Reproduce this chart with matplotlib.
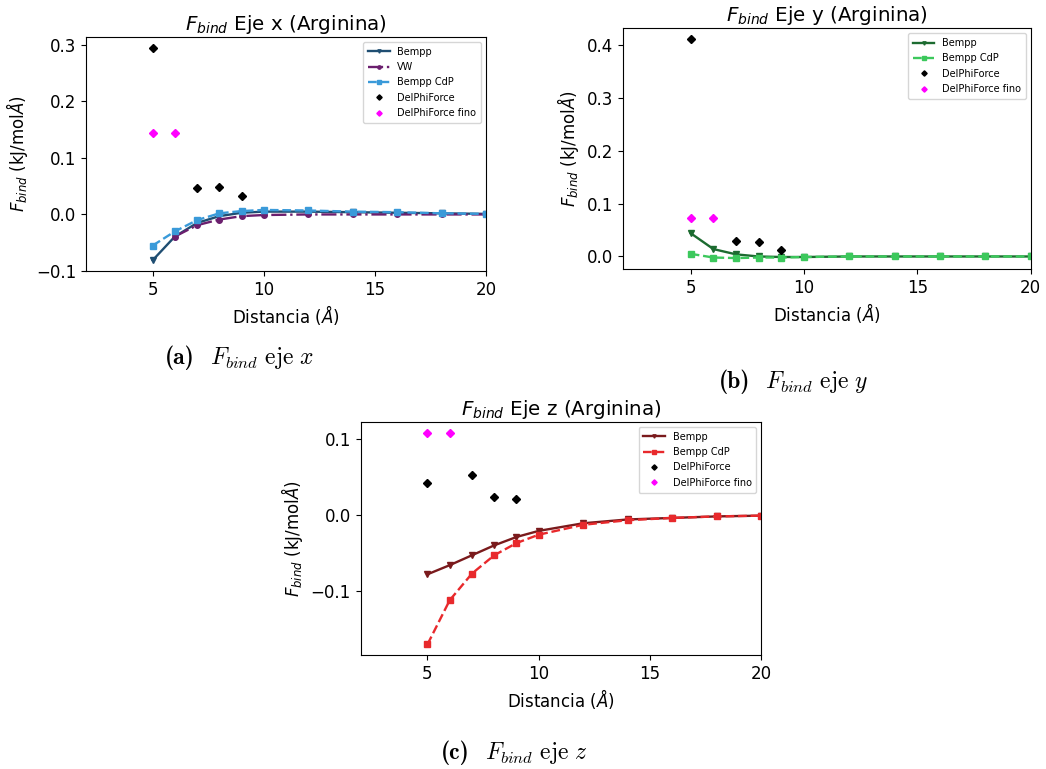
import matplotlib
matplotlib.use("Agg")
import matplotlib.pyplot as plt

# Distances (Å)
dist = [5, 6, 7, 8, 9, 10, 12, 14, 16, 18, 20]
dist_vw = [6, 7, 8, 9, 10, 12, 14, 16, 18, 20]
dist_delphi = [5, 7, 8, 9]
dist_fino = [5, 6]

# Eje x
x_bempp = [-0.081, -0.039, -0.015, -0.003, 0.003, 0.005, 0.005, 0.004, 0.003, 0.002, 0.001]
x_vw = [-0.039, -0.019, -0.009, -0.003, -0.001, 0.0, 0.0, 0.0, 0.0, 0.0]
x_cdp = [-0.055, -0.030, -0.010, 0.002, 0.006, 0.008, 0.007, 0.005, 0.004, 0.002, 0.001]
x_delphi = [0.295, 0.046, 0.048, 0.033]
x_fino = [0.144, 0.144]

# Eje y
y_bempp = [0.044, 0.014, 0.004, 0.000, -0.001, -0.001, 0.0, 0.0, 0.0, 0.0, 0.0]
y_cdp = [0.005, -0.002, -0.003, -0.002, -0.002, -0.001, 0.0, 0.0, 0.0, 0.0, 0.0]
y_delphi = [0.411, 0.030, 0.027, 0.013]
y_fino = [0.072, 0.072]

# Eje z
z_bempp = [-0.078, -0.066, -0.053, -0.040, -0.029, -0.021, -0.011, -0.006, -0.004, -0.002, -0.001]
z_cdp = [-0.170, -0.112, -0.077, -0.053, -0.037, -0.026, -0.013, -0.007, -0.004, -0.002, -0.001]
z_delphi = [0.042, 0.052, 0.023, 0.021]
z_fino = [0.108, 0.108]

W, H = 1046, 769
fig = plt.figure(figsize=(W / 100, H / 100), dpi=100)


def px_axes(left, top, right, bottom):
    return fig.add_axes([left / W, 1 - bottom / H, (right - left) / W, (bottom - top) / H])


def style(ax, title):
    ax.set_xlim(2, 20)
    ax.set_xticks([5, 10, 15, 20])
    ax.tick_params(labelsize=12)
    ax.set_title(r"$F_{bind}$ Eje " + title + " (Arginina)", fontsize=14.3, pad=5)
    ax.set_xlabel(r"Distancia ($\AA$)", fontsize=12, labelpad=3)
    ax.set_ylabel(r"$F_{bind}$ (kJ/mol$\AA$)", fontsize=12)
    ax.legend(loc="upper right", fontsize=7, handlelength=2.2, borderpad=0.5,
              labelspacing=0.55, markerscale=0.6)


def delphi(ax, xs, ys, xf, yf):
    ax.plot(xs, ys, "D", color="black", markersize=4.5, linestyle="none",
            label="DelPhiForce")
    ax.plot(xf, yf, "D", color="#ff00ff", markersize=4.5, linestyle="none",
            label="DelPhiForce fino")


# (a) eje x
ax = px_axes(86, 37, 486, 271)
ax.plot(dist, x_bempp, "-v", color="#1f4e72", lw=1.7, ms=4, label="Bempp")
ax.plot(dist_vw, x_vw, "-.", marker="o", color="#6b1f6e", lw=1.7, ms=4, label="VW")
ax.plot(dist, x_cdp, "--s", color="#3a9ad9", lw=1.7, ms=4, label="Bempp CdP")
delphi(ax, dist_delphi, x_delphi, dist_fino, x_fino)
ax.set_yticks([-0.1, 0.0, 0.1, 0.2, 0.3])
style(ax, "x")

# (b) eje y
ax = px_axes(622.7, 28.3, 1030.7, 269)
ax.plot(dist, y_bempp, "-v", color="#1c6b30", lw=1.7, ms=4, label="Bempp")
ax.plot(dist, y_cdp, "--s", color="#3cc85c", lw=1.7, ms=4, label="Bempp CdP")
delphi(ax, dist_delphi, y_delphi, dist_fino, y_fino)
ax.set_yticks([0.0, 0.1, 0.2, 0.3, 0.4])
style(ax, "y")

# (c) eje z
ax = px_axes(360.7, 422, 761.3, 655)
ax.plot(dist, z_bempp, "-v", color="#7a1a1c", lw=1.7, ms=4, label="Bempp")
ax.plot(dist, z_cdp, "--s", color="#e8292c", lw=1.7, ms=4, label="Bempp CdP")
delphi(ax, dist_delphi, z_delphi, dist_fino, z_fino)
ax.set_yticks([-0.1, 0.0, 0.1])
style(ax, "z")


# Subfigure captions: bold tag + Computer Modern math
def caption(split_px, y_px, tag, axis):
    fig.text(split_px / W, 1 - y_px / H, tag, fontfamily="cmb10", fontsize=17,
             ha="right", va="baseline")
    fig.text((split_px + 15) / W, 1 - y_px / H,
             r"$F_{bind}\ \mathrm{eje}\ " + axis + "$", math_fontfamily="cm",
             fontsize=17, ha="left", va="baseline")


caption(195, 364, "(a)", "x")
caption(750, 388, "(b)", "y")
caption(470, 759, "(c)", "z")

fig.savefig("out.png", dpi=100)
